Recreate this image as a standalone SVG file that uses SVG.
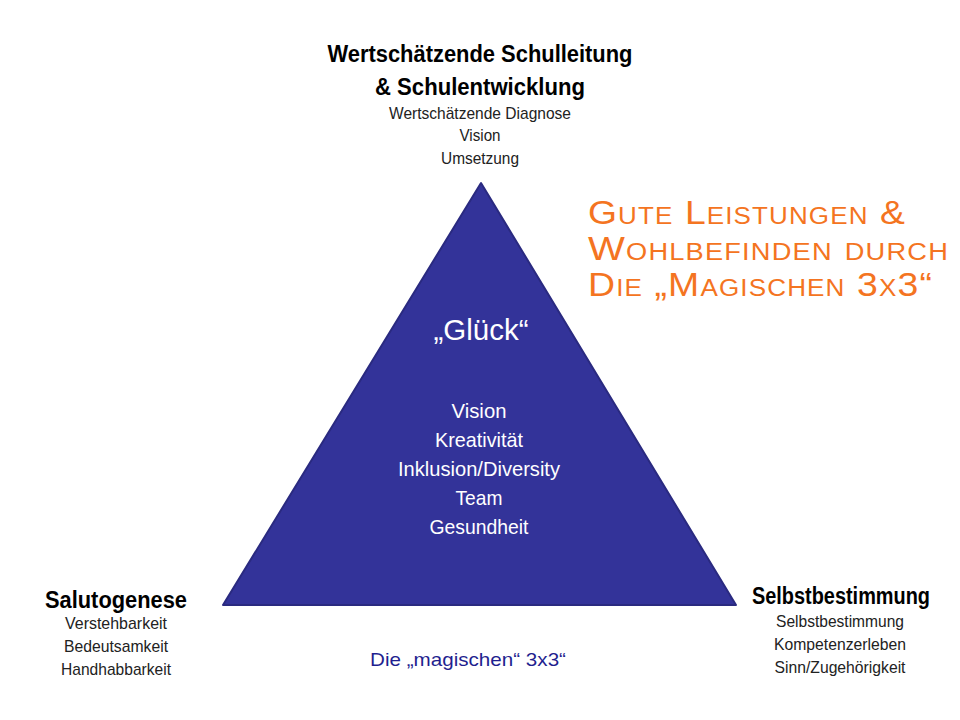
<svg xmlns="http://www.w3.org/2000/svg" width="960" height="720" viewBox="0 0 960 720">
<style>
.t{font-family:"Liberation Sans",Arial,sans-serif;text-anchor:middle;fill:#000}
.h{font-weight:bold;font-size:23px}
.s{font-size:17px;fill:#222}
.w{fill:#fff;font-size:21px}
.o{font-family:"Liberation Sans",Arial,sans-serif;font-variant:small-caps;font-size:33px;fill:#f47421;letter-spacing:1px}
</style>
<rect width="960" height="720" fill="#fff"/>
<g id="triangle">
<polygon points="481,183 223,605 736,605" fill="#333399" stroke="#2a2a80" stroke-width="2" stroke-linejoin="round"/>
<text class="t w" x="481" y="340" style="font-size:30px" textLength="95" lengthAdjust="spacingAndGlyphs">„Glück“</text>
<text class="t w" x="479" y="418" textLength="55" lengthAdjust="spacingAndGlyphs">Vision</text>
<text class="t w" x="479" y="447" textLength="88" lengthAdjust="spacingAndGlyphs">Kreativität</text>
<text class="t w" x="479" y="476" textLength="162" lengthAdjust="spacingAndGlyphs">Inklusion/Diversity</text>
<text class="t w" x="479" y="505" textLength="47" lengthAdjust="spacingAndGlyphs">Team</text>
<text class="t w" x="479" y="534" textLength="99" lengthAdjust="spacingAndGlyphs">Gesundheit</text>
</g>
<g id="top">
<text class="t h" x="480" y="62" textLength="305" lengthAdjust="spacingAndGlyphs">Wertschätzende Schulleitung</text>
<text class="t h" x="480" y="95" textLength="210" lengthAdjust="spacingAndGlyphs">&amp; Schulentwicklung</text>
<text class="t s" x="480" y="119" textLength="182" lengthAdjust="spacingAndGlyphs">Wertschätzende Diagnose</text>
<text class="t s" x="480" y="141" textLength="41" lengthAdjust="spacingAndGlyphs">Vision</text>
<text class="t s" x="480" y="164" textLength="78" lengthAdjust="spacingAndGlyphs">Umsetzung</text>
</g>
<g id="left">
<text class="t h" x="116" y="608" textLength="142" lengthAdjust="spacingAndGlyphs">Salutogenese</text>
<text class="t s" x="116" y="629" textLength="102" lengthAdjust="spacingAndGlyphs">Verstehbarkeit</text>
<text class="t s" x="116" y="652" textLength="104" lengthAdjust="spacingAndGlyphs">Bedeutsamkeit</text>
<text class="t s" x="116" y="675" textLength="110" lengthAdjust="spacingAndGlyphs">Handhabbarkeit</text>
</g>
<g id="right">
<text class="t h" x="841" y="604" textLength="178" lengthAdjust="spacingAndGlyphs">Selbstbestimmung</text>
<text class="t s" x="840" y="627" textLength="128" lengthAdjust="spacingAndGlyphs">Selbstbestimmung</text>
<text class="t s" x="840" y="650" textLength="132" lengthAdjust="spacingAndGlyphs">Kompetenzerleben</text>
<text class="t s" x="840" y="673" textLength="131" lengthAdjust="spacingAndGlyphs">Sinn/Zugehörigkeit</text>
</g>
<g id="caption">
<text class="t" x="468" y="666" style="font-size:19px;fill:#1f1f8f" textLength="196" lengthAdjust="spacingAndGlyphs">Die „magischen“ 3x3“</text>
</g>
<g id="headline">
<text class="o" x="588" y="224" textLength="318" lengthAdjust="spacingAndGlyphs">Gute Leistungen &amp;</text>
<text class="o" x="588" y="260" textLength="361" lengthAdjust="spacingAndGlyphs">Wohlbefinden durch</text>
<text class="o" x="588" y="296" textLength="345" lengthAdjust="spacingAndGlyphs">Die „Magischen 3x3“</text>
</g>
<g id="connectors"/>
</svg>
